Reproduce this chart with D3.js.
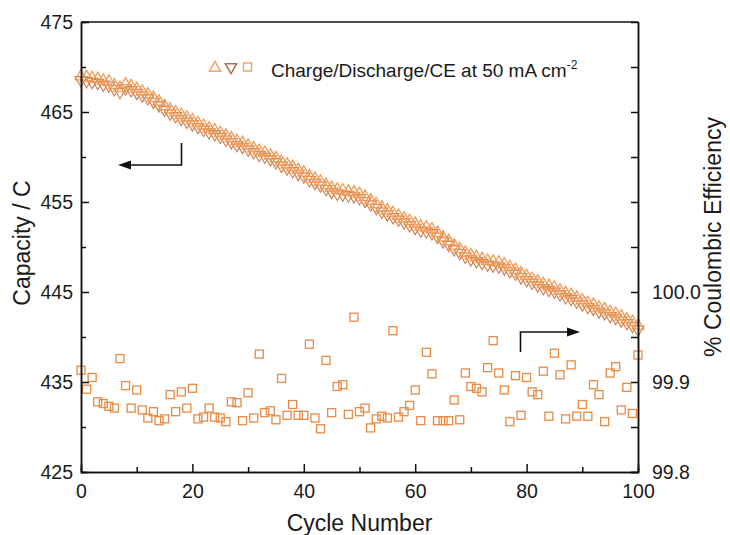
<!DOCTYPE html>
<html>
<head>
<meta charset="utf-8">
<script src="https://cdn.jsdelivr.net/npm/d3@7"></script>
<style>
  html, body { margin: 0; padding: 0; background: #fff; }
  svg text { font-family: "Liberation Sans", Arial, Helvetica, sans-serif; fill: #1a1a1a; }
</style>
</head>
<body>
<svg id="chart" width="730" height="535"></svg>
<script>
// ---------------- data ----------------
const cycles = d3.range(0, 101);

const chargeCapacity = [
  468.9, 468.8, 468.7, 468.6, 468.4, 468.3, 467.9, 467.6, 468.0, 467.8,
  467.5, 467.2, 466.9, 466.5, 466.1, 465.6, 465.2, 464.9, 464.6, 464.3,
  464.0, 463.7, 463.4, 463.1, 462.9, 462.6, 462.3, 462.0, 461.7, 461.5,
  461.2, 460.9, 460.6, 460.4, 460.1, 459.8, 459.4, 459.1, 458.8, 458.5,
  458.2, 457.8, 457.5, 457.2, 456.8, 456.5, 456.3, 456.2, 456.1, 456.0,
  455.8, 455.5, 455.1, 454.7, 454.3, 454.0, 453.7, 453.4, 453.1, 452.8,
  452.5, 452.2, 452.1, 451.9, 451.5, 451.0, 450.6, 450.1, 449.7, 449.3,
  449.0, 448.8, 448.6, 448.4, 448.3, 448.2, 448.0, 447.7, 447.4, 447.0,
  446.7, 446.4, 446.1, 445.8, 445.6, 445.4, 445.1, 444.8, 444.6, 444.3,
  444.0, 443.7, 443.5, 443.2, 443.0, 442.7, 442.5, 442.2, 441.9, 441.6,
  441.2
];

const dischargeCapacity = [
  468.6, 468.5, 468.4, 468.3, 468.1, 468.0, 467.6, 467.3, 467.7, 467.5,
  467.2, 466.9, 466.6, 466.2, 465.8, 465.3, 464.9, 464.6, 464.3, 464.0,
  463.7, 463.4, 463.1, 462.8, 462.6, 462.3, 462.0, 461.7, 461.4, 461.2,
  460.9, 460.6, 460.3, 460.1, 459.8, 459.5, 459.1, 458.8, 458.5, 458.2,
  457.9, 457.5, 457.2, 456.9, 456.5, 456.2, 456.0, 455.9, 455.8, 455.7,
  455.5, 455.2, 454.8, 454.4, 454.0, 453.7, 453.4, 453.1, 452.8, 452.5,
  452.2, 451.9, 451.8, 451.6, 451.2, 450.7, 450.3, 449.8, 449.4, 449.0,
  448.7, 448.5, 448.3, 448.1, 448.0, 447.9, 447.7, 447.4, 447.1, 446.7,
  446.4, 446.1, 445.8, 445.5, 445.3, 445.1, 444.8, 444.5, 444.3, 444.0,
  443.7, 443.4, 443.2, 442.9, 442.7, 442.4, 442.2, 441.9, 441.6, 441.3,
  440.9
];

const coulombicEfficiency = [
  99.913, 99.892, 99.905, 99.878, 99.876, 99.873, 99.871, 99.926, 99.896, 99.871,
  99.891, 99.869, 99.860, 99.867, 99.857, 99.859, 99.886, 99.867, 99.889, 99.871,
  99.893, 99.859, 99.861, 99.871, 99.861, 99.860, 99.856, 99.878, 99.877, 99.857,
  99.888, 99.860, 99.931, 99.866, 99.868, 99.858, 99.904, 99.863, 99.875, 99.863,
  99.863, 99.942, 99.860, 99.848, 99.924, 99.866, 99.895, 99.897, 99.864, 99.972,
  99.867, 99.871, 99.849, 99.859, 99.862, 99.860, 99.957, 99.861, 99.867, 99.874,
  99.891, 99.857, 99.933, 99.909, 99.857, 99.857, 99.857, 99.880, 99.858, 99.910,
  99.895, 99.893, 99.889, 99.916, 99.946, 99.910, 99.891, 99.856, 99.907, 99.863,
  99.905, 99.889, 99.886, 99.912, 99.862, 99.932, 99.908, 99.859, 99.919, 99.862,
  99.875, 99.862, 99.897, 99.886, 99.856, 99.910, 99.917, 99.869, 99.894, 99.865,
  99.930
];

const xMajorTicks = [0, 20, 40, 60, 80, 100];
const xMinorTicks = [10, 30, 50, 70, 90];
const leftMajorTicks = [425, 435, 445, 455, 465, 475];
const leftMinorTicks = [430, 440, 450, 460, 470];
const rightMajorTicks = [99.8, 99.9, 100.0];
const rightMinorTicks = [99.85, 99.95, 100.05, 100.1, 100.15, 100.2, 100.25];

const legendText = "Charge/Discharge/CE at 50 mA cm";
const legendSup = "-2";

// ---------------- layout ----------------
const L = 81, R = 638, T = 22, B = 472;
const svg = d3.select("#chart");

const x = d3.scaleLinear().domain([0, 100]).range([L, R]);
const yL = d3.scaleLinear().domain([425, 475]).range([B, T]);
const yR = d3.scaleLinear().domain([99.8, 100.3]).range([B, T]);

const cCharge = "#F19B57", cDis = "#CF7C4C", cCE = "#E98A45";
const tickFont = "19.5px";

// ---------------- marks ----------------
const triUp = d3.symbol().type(d3.symbolTriangle).size(62)();
const plot = svg.append("g");

plot.selectAll("path.dis").data(cycles).join("path")
  .attr("class", "dis")
  .attr("d", triUp)
  .attr("transform", i => `translate(${x(i)},${yL(dischargeCapacity[i]) + 0.5}) rotate(180)`)
  .attr("fill", "none").attr("stroke", cDis).attr("stroke-width", 1.1);

plot.selectAll("path.charge").data(cycles).join("path")
  .attr("class", "charge")
  .attr("d", triUp)
  .attr("transform", i => `translate(${x(i)},${yL(chargeCapacity[i]) - 0.5})`)
  .attr("fill", "none").attr("stroke", cCharge).attr("stroke-width", 1.3);

plot.selectAll("rect.ce").data(cycles).join("rect")
  .attr("class", "ce")
  .attr("x", i => x(i) - 4).attr("y", i => yR(coulombicEfficiency[i]) - 4)
  .attr("width", 8).attr("height", 8)
  .attr("fill", "none").attr("stroke", cCE).attr("stroke-width", 1.3);

// ---------------- axes ----------------
function styleAxis(g) {
  g.selectAll(".domain").attr("stroke", "#111").attr("stroke-width", 1.5);
  g.selectAll(".tick line").attr("stroke", "#111").attr("stroke-width", 1.5);
  g.selectAll("text").style("font-size", tickFont).attr("fill", "#1a1a1a");
}

svg.append("g").attr("transform", `translate(${L},0)`)
  .call(d3.axisLeft(yL).tickValues(leftMinorTicks).tickSize(-5).tickFormat(""))
  .call(styleAxis);
svg.append("g").attr("transform", `translate(${L},0)`)
  .call(d3.axisLeft(yL).tickValues(leftMajorTicks).tickSize(-8).tickSizeOuter(0).tickPadding(8).tickFormat(d3.format("d")))
  .call(styleAxis);

svg.append("g").attr("transform", `translate(0,${B})`)
  .call(d3.axisBottom(x).tickValues(xMinorTicks).tickSize(-5).tickFormat(""))
  .call(styleAxis);
svg.append("g").attr("transform", `translate(0,${B})`)
  .call(d3.axisBottom(x).tickValues(xMajorTicks).tickSize(-8).tickSizeOuter(0).tickPadding(12).tickFormat(d3.format("d")))
  .call(styleAxis);

svg.append("g").attr("transform", `translate(${R},0)`)
  .call(d3.axisRight(yR).tickValues(rightMinorTicks).tickSize(-7).tickFormat(""))
  .call(styleAxis);
svg.append("g").attr("transform", `translate(${R},0)`)
  .call(d3.axisRight(yR).tickValues(rightMajorTicks).tickSize(-7).tickSizeOuter(0).tickPadding(14).tickFormat(d3.format(".1f")))
  .call(styleAxis);

// top frame line
svg.append("line").attr("x1", L).attr("x2", R).attr("y1", T).attr("y2", T)
  .attr("stroke", "#111").attr("stroke-width", 1.5);

// ---------------- titles ----------------
svg.append("text").attr("transform", "translate(30,243) rotate(-90)")
  .attr("text-anchor", "middle").style("font-size", "23px").text("Capacity / C");
svg.append("text").attr("transform", "translate(721,237) rotate(-90)")
  .attr("text-anchor", "middle").style("font-size", "23px").text("% Coulombic Efficiency");
svg.append("text").attr("x", (L + R) / 2).attr("y", 531)
  .attr("text-anchor", "middle").style("font-size", "23px").text("Cycle Number");

// ---------------- legend ----------------
const leg = svg.append("g");
leg.append("path").attr("d", d3.symbol().type(d3.symbolTriangle).size(55)())
  .attr("transform", "translate(215,68)").attr("fill", "none").attr("stroke", "#F2A468").attr("stroke-width", 1.5);
leg.append("path").attr("d", d3.symbol().type(d3.symbolTriangle).size(55)())
  .attr("transform", "translate(231,67) rotate(180)").attr("fill", "none").attr("stroke", "#B9694E").attr("stroke-width", 1.5);
leg.append("rect").attr("x", 243.5).attr("y", 63).attr("width", 8).attr("height", 8)
  .attr("fill", "none").attr("stroke", "#F2A468").attr("stroke-width", 1.5);
const lt = leg.append("text").attr("x", 271).attr("y", 77).style("font-size", "19px");
lt.append("tspan").text(legendText);
lt.append("tspan").attr("dy", -8).style("font-size", "12px").text(legendSup);

// ---------------- arrows ----------------
const arrows = svg.append("g").attr("stroke", "#111").attr("stroke-width", 1.6).attr("fill", "none");
arrows.append("path").attr("d", "M181.5,143 L181.5,165 L128,165");
svg.append("path").attr("d", "M118,165 L131,160.5 L131,169.5 Z").attr("fill", "#111");
arrows.append("path").attr("d", "M520.5,352 L520.5,332 L568,332");
svg.append("path").attr("d", "M580,332 L567,327.5 L567,336.5 Z").attr("fill", "#111");
</script>
</body>
</html>
